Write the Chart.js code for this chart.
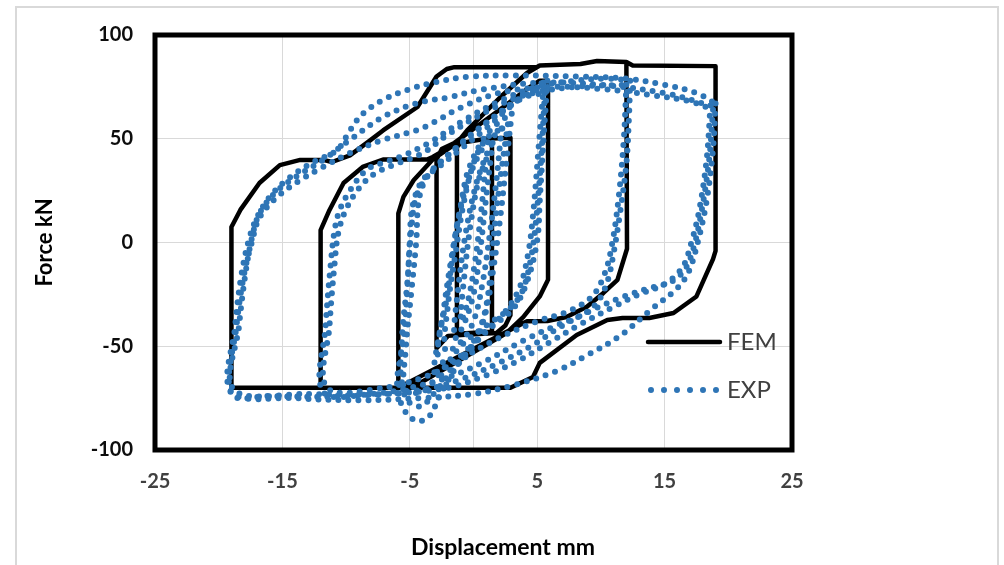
<!DOCTYPE html>
<html>
<head>
<meta charset="utf-8">
<title>Force - displacement hysteresis</title>
<script src="https://cdn.jsdelivr.net/npm/chart.js@4.4.1/dist/chart.umd.min.js"></script>
<style>
  html, body { margin: 0; padding: 0; background: #fff; }
  #wrap { width: 1004px; height: 565px; }
</style>
</head>
<body>
<div id="wrap"><canvas id="chart" width="1004" height="565"></canvas></div>
<script>
// =============================================================================
// Data (displacement mm, force kN)
// =============================================================================
const xTicks = [-25, -15, -5, 5, 15, 25];
const yTicks = [-100, -50, 0, 50, 100];

// FEM curve, one piece per amplitude
const fem1 = [[1.45,0],[1.45,46],[1.45,-43],[-1.3,-44],[-1.3,46],[-1,48]];
const fem3 = [[1,50],[2.9,50.5],[2.9,-35],[2.5,-40],[1.8,-43.6],[-2,-45],[-2.9,-51],[-2.9,40],[-2.5,45]];
const fem6 = [[-1.5,48],[0.5,57],[2.5,66],[4.2,74],[5.2,78],[5.85,78],[5.85,-18],[5.2,-26],[3.9,-36],
  [2.6,-43.6],[-4.2,-67.7],[-5.9,-70],[-5.9,14],[-5.5,22],[-4.7,30],[-3.2,40]];
const fem12 = [[-1.3,48],[-0.5,54],[2.1,70],[4.2,81.7],[5.2,85.3],[8.4,86],[9.7,87.5],[12,87],
  [12.05,-3],[11.3,-18],[10.2,-24.3],[8.9,-31],[7.3,-35.9],[5.8,-37.8],[4.2,-38],[-5.9,-70],[-12,-70],
  [-12,6],[-11.3,15.7],[-10.2,28.7],[-8.7,36.4],[-7.1,40],[-3.65,40],[-3.2,41.2],[-1.3,48],[-0.5,54],
  [2.1,70],[4.2,81.7],[5.2,85.3],[8.4,86],[9.7,87.5],[12,87]];
const fem19 = [[12.5,85.3],[19,85],[19,-4],[18.8,-8],[17.5,-26],[15.7,-34],[13.8,-36.4],[11.7,-36.4],
  [10.5,-37.3],[8.1,-44.6],[5.2,-58],[4.67,-64.8],[2.9,-70],[-19,-70],[-19,7.5],[-18.3,15.7],[-16.8,28.7],
  [-15.2,37.3],[-13.6,39.8],[-11.8,39.8],[-11.1,38.8],[-9.7,42],[-8.4,47.9],[-7.1,54],[-4.4,65.3],
  [-2.9,80],[-2.1,83.6],[-1.5,84.5],[5,84.5]];

// EXP curve, one array per test cycle
const exp1a = [[1.5,48],[1,22],[0.5,-5],[0,-25],[-0.8,-40],[-1.5,-46],[-1.2,-22],[-0.6,5],[0.2,28],[1,42],[1.5,48]];
const exp1b = [[1,40],[0.6,15],[0.1,-10],[-0.5,-30],[-1,-38],[-0.7,-15],[-0.2,10],[0.4,30],[1,40]];
const exp2 = [[2.2,55],[1.8,30],[1.3,5],[0.7,-20],[0,-38],[-1,-48],[-2.2,-52],[-2,-30],[-1.4,-5],
  [-0.8,18],[0,38],[1,50],[2.2,55]];
const exp3a = [[3,62],[2.6,40],[2.1,12],[1.5,-15],[0.9,-35],[0,-50],[-1.5,-60],[-3,-64],[-2.7,-45],
  [-2.1,-27],[-1.5,0],[-1,18],[-0.4,35],[0.8,50],[2,58],[3,62]];
const exp3b = [[2.7,57],[2.2,35],[1.7,10],[1.1,-27],[0.4,-43],[-0.7,-53],[-2.1,-58],[-2.8,-55],[-2.4,-35],
  [-1.8,-10],[-1.1,14],[-0.3,32],[0.7,45],[1.9,53],[2.7,57]];
const exp6a = [[5.8,78],[5.5,50],[5.2,20],[5,1],[4.2,-19],[3.1,-32],[1,-43],[-1,-57],[-2.5,-72],[-3.5,-84],
  [-4.5,-86],[-5.5,-80],[-6,-68],[-5.5,-47],[-5.2,-23],[-5,1],[-4.8,17],[-4,30],[-2.6,37],[-1,45],[1,55],
  [3,66],[4.8,75],[5.8,78]];
const exp6b = [[5.5,75],[5.1,45],[4.7,15],[4.3,-5],[3.6,-22],[2.4,-34],[0.4,-46],[-1.5,-60],[-3,-72],
  [-4.2,-79],[-5.4,-74],[-5.3,-50],[-4.9,-25],[-4.5,0],[-4.3,20],[-3.7,31],[-2.4,40],[-0.5,50],[1.5,60],
  [3.5,69],[5.5,75]];
const exp6c = [[5.6,72],[5.3,40],[4.9,10],[4.5,-8],[3.8,-24],[2.8,-32],[1,-40],[-1,-50],[-2.5,-62],
  [-4,-72],[-5.5,-70],[-5.6,-45],[-5.2,-20],[-4.9,5],[-4.5,22],[-3.5,33],[-2,42],[0,53],[2,62],[4,70],[5.6,72]];
const exp12a = [[12.3,78],[12.2,60],[12,38],[11.5,14],[11,-5],[10.5,-19],[9.7,-29],[8.5,-35],[6.5,-40],
  [4,-47],[1,-57],[-2,-65],[-5,-70],[-8,-73],[-11.8,-72],[-11.6,-40],[-11.2,-10],[-10.9,6],[-10.5,15.7],
  [-9.7,25],[-8.4,35],[-7.1,38.5],[-5.8,41.2],[-3.5,48],[-1,58],[2,68],[5,75],[8,78],[10.5,79],[12.3,78]];
const exp12b = [[12,76],[11.8,50],[11.4,22],[10.9,0],[10.3,-15],[9.3,-26],[7.5,-33],[5,-38],[2,-46],
  [-1,-56],[-3.5,-64],[-7,-70],[-11.5,-70],[-11.3,-40],[-10.9,-10],[-10.6,5],[-10,16],[-9,26],[-7.8,33],
  [-6,38],[-4,43],[-2,52],[1,63],[4,71],[8,75],[12,76]];
const exp19a = [[19,67],[18.8,45],[18.3,20],[17.6,0],[16.9,-14],[16,-22],[14,-32],[11.5,-45],[9,-54],
  [6.5,-62],[3,-69],[0,-73],[-4,-75],[-9,-76],[-14,-75],[-19,-72],[-18.7,-40],[-18.2,-15],[-17.6,2],
  [-17,12],[-16,22],[-14.5,31],[-12.5,39],[-10.7,44.6],[-9.7,54],[-8.7,62],[-7.1,68.7],[-5.2,73.5],
  [-3.2,77],[-0.5,79.8],[3,80.5],[8,80],[12,79],[15,76],[17.5,72],[19,67]];
const exp19b = [[18.6,66],[18.3,40],[17.7,15],[17.1,0],[16.4,-12],[15,-20],[13,-25],[11,-31],[8.5,-39],
  [6,-48],[3.5,-57],[1,-64],[-2,-70],[-7,-73],[-13,-73],[-18.8,-71],[-18.4,-40],[-17.9,-15],[-17.4,2],
  [-16.8,14],[-15.4,25],[-13.6,33],[-11.8,39.8],[-9.7,49.4],[-7.1,60.5],[-4.4,67.2],[-1.8,70.1],
  [0.5,73.5],[5,77],[10,76],[15,72],[18.6,66]];
const exp19c = [[18.8,64],[18.5,40],[17.9,15],[17.3,-2],[16.6,-13],[15.5,-19],[13.8,-22],[11.8,-26],
  [9.5,-32],[7,-40],[4.5,-50],[2,-58],[-1,-66],[-4,-71],[-10,-74],[-16,-74],[-19,-73],[-18.6,-40],
  [-18,-15],[-17.4,0],[-16.8,12],[-15.4,22],[-13.6,30],[-11.8,36.4],[-9.7,43.1],[-7.1,49.4],[-4.4,54.2],
  [-3.2,57.6],[-1,65],[2,72],[6,75],[10,74],[14,71],[17,68],[18.8,64]];

const femPieces = [fem1, fem3, fem6, fem12, fem19];
const expCycles = [exp1a, exp1b, exp2, exp3a, exp3b, exp6a, exp6b, exp6c, exp12a, exp12b, exp19a, exp19b, exp19c];

// =============================================================================
// Styles
// =============================================================================
const FEM_COLOR = '#000000';
const EXP_COLOR = '#2E75B6';
const GRID_COLOR = '#d9d9d9';
const FONT = "Lato, 'Open Sans', sans-serif";
const EXP_DASH = [0, 10];

const toPoints = (pairs) => pairs.map(p => ({ x: p[0], y: p[1] }));

function buildDatasets() {
    const datasets = [];

    // FEM is one continuous path
    datasets.push({
        label: 'FEM',
        data: toPoints(femPieces.flat()),
        borderColor: FEM_COLOR,
        borderWidth: 4.5,
        borderJoinStyle: 'round',
        tension: 0,
        pointRadius: 0,
        showLine: true,
        order: 1
    });

    // EXP cycles as round dotted lines
    expCycles.forEach((cycle, i) => {
        datasets.push({
            label: i === 0 ? 'EXP' : 'EXP ' + i,
            data: toPoints(cycle),
            borderColor: EXP_COLOR,
            borderWidth: 6,
            borderDash: EXP_DASH,
            borderCapStyle: 'round',
            tension: 0.35,
            pointRadius: 0,
            showLine: true,
            order: 0
        });
    });
    return datasets;
}

// Frame, plot border, legend and x title drawn on the canvas
const decorations = {
    id: 'decorations',
    beforeDraw(chart) {
        const ctx = chart.ctx;
        ctx.save();
        ctx.fillStyle = '#ffffff';
        ctx.fillRect(0, 0, chart.width, chart.height);
        ctx.strokeStyle = '#d9d9d9';
        ctx.lineWidth = 2;
        ctx.strokeRect(16, 7, 982, 600);
        ctx.restore();
    },
    afterDraw(chart) {
        const { ctx, chartArea: a } = chart;
        ctx.save();

        // Thick plot-area border
        ctx.strokeStyle = '#000';
        ctx.lineWidth = 5;
        ctx.strokeRect(a.left, a.top, a.right - a.left, a.bottom - a.top);

        // Legend (inside plot area, right side)
        const lx0 = a.right - 144, lx1 = a.right - 72;
        const fy = a.top + 307, ey = a.top + 355;
        ctx.lineCap = 'round';
        ctx.lineWidth = 4.5;
        ctx.strokeStyle = FEM_COLOR;
        ctx.beginPath();
        ctx.moveTo(lx0, fy);
        ctx.lineTo(lx1, fy);
        ctx.stroke();

        ctx.lineWidth = 6;
        ctx.strokeStyle = EXP_COLOR;
        ctx.setLineDash([0, 13]);
        ctx.beginPath();
        ctx.moveTo(lx0 + 3, ey);
        ctx.lineTo(lx1, ey);
        ctx.stroke();
        ctx.setLineDash([]);

        ctx.fillStyle = '#404040';
        ctx.font = '24px ' + FONT;
        ctx.textAlign = 'left';
        ctx.textBaseline = 'middle';
        ctx.fillText('FEM', a.right - 65, fy);
        ctx.fillText('EXP', a.right - 65, ey);

        // X axis title
        ctx.fillStyle = '#000';
        ctx.font = 'bold 23px ' + FONT;
        ctx.textAlign = 'center';
        ctx.fillText('Displacement mm', 503, 548);

        ctx.restore();
    }
};

function createChart() {
    const ctx = document.getElementById('chart');

    return new Chart(ctx, {
        type: 'scatter',
        data: { datasets: buildDatasets() },
        plugins: [decorations],
        options: {
            responsive: false,
            animation: false,
            events: [],
            layout: { padding: { left: 0, top: 35, right: 212, bottom: 0 } },
            plugins: {
                legend: { display: false },
                tooltip: { enabled: false }
            },
            scales: {
                x: {
                    type: 'linear',
                    min: -25,
                    max: 25,
                    afterBuildTicks: (scale) => {
                        // extra gridline at 0 (axis line), no label there
                        scale.ticks = xTicks.concat([0]).sort((p, q) => p - q).map(v => ({ value: v }));
                    },
                    afterFit: (scale) => { scale.height = 115; },
                    border: { display: false },
                    grid: { color: GRID_COLOR, lineWidth: 1, drawTicks: false },
                    ticks: {
                        autoSkip: false,
                        maxRotation: 0,
                        padding: 20,
                        color: '#404040',
                        font: { family: FONT, size: 20, weight: 'bold' },
                        callback: (v) => xTicks.includes(v) ? String(v) : ''
                    }
                },
                y: {
                    min: -100,
                    max: 100,
                    afterBuildTicks: (scale) => {
                        scale.ticks = yTicks.map(v => ({ value: v }));
                    },
                    afterFit: (scale) => { scale.width = 155; },
                    border: { display: false },
                    grid: { color: GRID_COLOR, lineWidth: 1, drawTicks: false },
                    ticks: {
                        padding: 22,
                        color: '#0d0d0d',
                        font: { family: FONT, size: 20, weight: 'bold' }
                    },
                    title: {
                        display: true,
                        text: 'Force kN',
                        color: '#000',
                        font: { family: FONT, size: 22, weight: 'bold' },
                        padding: { top: 32, bottom: 0 }
                    }
                }
            }
        }
    });
}

createChart();
</script>
</body>
</html>
